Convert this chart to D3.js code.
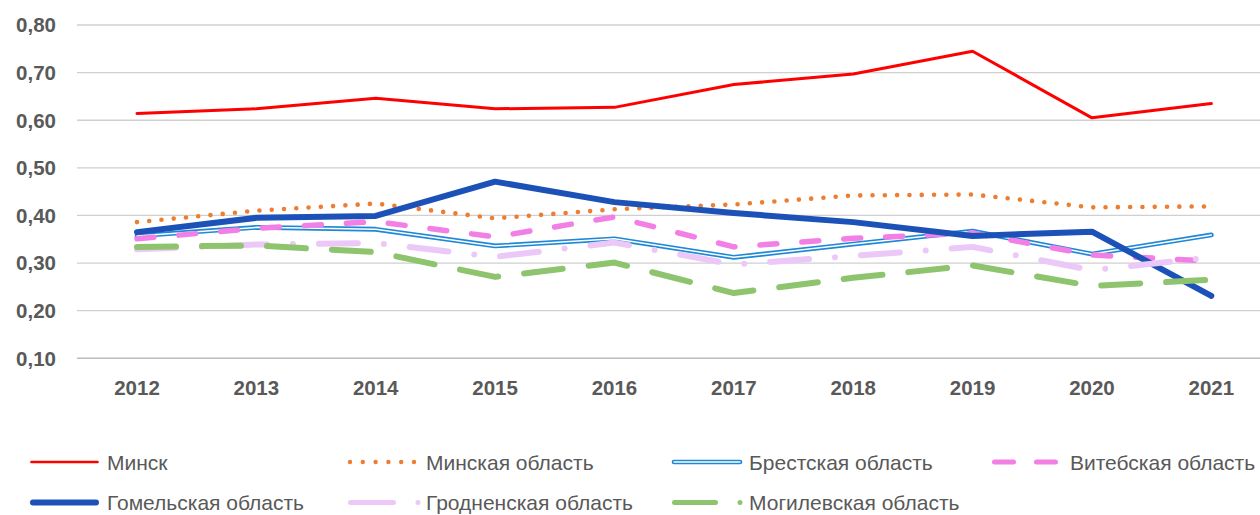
<!DOCTYPE html>
<html><head><meta charset="utf-8">
<script src="https://cdn.jsdelivr.net/npm/d3@7"></script>
<style>body{margin:0;background:#fff}</style></head>
<body><svg id="c" width="1260" height="515"></svg>
<script>
const years = ["2012","2013","2014","2015","2016","2017","2018","2019","2020","2021"];
const yTicks = [0.1,0.2,0.3,0.4,0.5,0.6,0.7,0.8];
const seriesNames = ["Минск","Минская область","Брестская область","Витебская область","Гомельская область","Гродненская область","Могилевская область"];
const minsk     = [0.614,0.624,0.646,0.624,0.627,0.675,0.697,0.745,0.605,0.635];
const minskObl  = [0.386,0.410,0.425,0.394,0.413,0.423,0.442,0.444,0.417,0.419];
const brest     = [0.357,0.375,0.371,0.336,0.351,0.312,0.340,0.367,0.319,0.359];
const vitebsk   = [0.351,0.373,0.387,0.355,0.397,0.334,0.352,0.363,0.317,0.304];
const gomel     = [0.365,0.395,0.399,0.471,0.428,0.405,0.386,0.357,0.366,0.231];
const grodno    = [0.329,0.339,0.342,0.313,0.343,0.297,0.315,0.334,0.285,0.312];
const mogilev   = [0.334,0.337,0.323,0.271,0.301,0.237,0.269,0.295,0.252,0.265];
const seriesValues = [minsk,minskObl,brest,vitebsk,gomel,grodno,mogilev];

const styles = [
  {color:"#ff0000", w:3, dash:null, legDash:null, legW:2.7},
  {color:"#ed7d31", w:4.6, dash:"0 12.3", legDash:"0 12.8", legW:4.4},
  {color:"#1e88d6", w:4.8, dash:null, legDash:null, legW:4.6, double:true},
  {color:"#f27fe6", w:5.5, dash:"17 25", legDash:"19 23", legW:5},
  {color:"#1c52b8", w:6, dash:null, legDash:null, legW:6},
  {color:"#ebc8f8", w:6, dash:"39 26 0 26", legDash:"43 24.5 0 100", legW:5},
  {color:"#8fc46e", w:6, dash:"39 26", legDash:"41 24.5 0 100", legW:5}
];

const svg = d3.select("#c");
const x = d3.scalePoint().domain(years).range([77.3, 1271]).padding(0.5);
const y = d3.scaleLinear().domain([0.1, 0.8]).range([358.3, 25]);
const fmt = v => d3.format(".2f")(v).replace(".", ",");

// gridlines
svg.append("g").selectAll("line").data(yTicks).join("line")
  .attr("x1", 77).attr("x2", 1260)
  .attr("y1", d => y(d)).attr("y2", d => y(d))
  .attr("stroke", (d,i) => i === 0 ? "#bcbcbc" : "#d0d0d0")
  .attr("stroke-width", (d,i) => i === 0 ? 1.6 : 1.3);

// y labels
svg.append("g").selectAll("text").data(yTicks).join("text")
  .attr("x", 56).attr("y", d => y(d)).attr("dy", "0.36em")
  .attr("text-anchor", "end")
  .attr("font-family", "Liberation Sans, Arial, sans-serif")
  .attr("font-weight", "bold").attr("font-size", 20.5)
  .attr("fill", "#595959").text(fmt);

// x labels
svg.append("g").selectAll("text").data(years).join("text")
  .attr("x", d => x(d)).attr("y", 395)
  .attr("text-anchor", "middle")
  .attr("font-family", "Liberation Sans, Arial, sans-serif")
  .attr("font-weight", "bold").attr("font-size", 20.5)
  .attr("fill", "#595959").text(d => d);

const line = d3.line().x((d,i) => x(years[i])).y(d => y(d));

seriesValues.forEach((vals, k) => {
  const s = styles[k];
  const p = svg.append("path").attr("d", line(vals))
    .attr("fill", "none").attr("stroke", s.color).attr("stroke-width", s.w)
    .attr("stroke-linecap", "round").attr("stroke-linejoin", "round");
  if (s.dash) p.attr("stroke-dasharray", s.dash);
  if (s.double) {
    svg.append("path").attr("d", line(vals))
      .attr("fill", "none").attr("stroke", "#fff").attr("stroke-width", 1.5)
      .attr("stroke-linecap", "round").attr("stroke-linejoin", "round");
  }
});

// legend
const legPos = [
  {x0:31.5, x1:97.5, tx:107, y:462},
  {x0:350, x1:414.5, tx:426, y:462},
  {x0:674, x1:740, tx:749, y:462},
  {x0:994.5, x1:1055.5, tx:1070, y:462},
  {x0:33, x1:96, tx:107, y:502.5},
  {x0:350.5, x1:418.5, tx:426, y:502.5},
  {x0:674.5, x1:740.5, tx:749, y:502.5}
];
seriesNames.forEach((name, k) => {
  const s = styles[k], p = legPos[k];
  const g = svg.append("g");
  const l = g.append("line").attr("x1", p.x0).attr("x2", p.x1).attr("y1", p.y).attr("y2", p.y)
    .attr("stroke", s.color).attr("stroke-width", s.legW).attr("stroke-linecap", "round");
  if (s.legDash) l.attr("stroke-dasharray", s.legDash);
  if (s.double) g.append("line").attr("x1", p.x0).attr("x2", p.x1).attr("y1", p.y).attr("y2", p.y)
    .attr("stroke", "#fff").attr("stroke-width", 1.4).attr("stroke-linecap", "round");
  g.append("text").attr("x", p.tx).attr("y", p.y).attr("dy", "0.36em")
    .attr("font-family", "Liberation Sans, Arial, sans-serif").attr("font-size", 21)
    .attr("fill", "#595959").text(name);
});
</script></body></html>
